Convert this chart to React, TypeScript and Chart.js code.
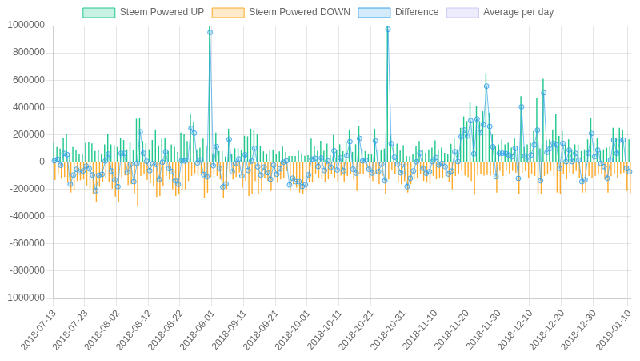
import React, { useEffect, useRef } from "react";
import { Chart, registerables } from "chart.js";

Chart.register(...registerables);

// Daily categories: 2018-07-13 .. 2019-01-10 (182 days)
const START_DAY = "2018-07-13";
const DAY_COUNT = 182;

// Tick labels that are shown on the x axis
const SHOWN_TICKS = [
  "2018-07-13", "2018-07-23", "2018-08-02", "2018-08-12", "2018-08-22",
  "2018-09-01", "2018-09-11", "2018-09-21", "2018-10-01", "2018-10-11",
  "2018-10-21", "2018-10-31", "2018-11-10", "2018-11-20", "2018-11-30",
  "2018-12-10", "2018-12-20", "2018-12-30", "2019-01-10",
];

// Y tick values
const Y_MIN = -1000000;
const Y_MAX = 1000000;
const Y_STEP = 200000;

// Steem Powered UP, thousands per day
const POWERED_UP_K = [
  141, 110, 98, 173, 205, 61, 110, 85, 61, 61,
  141, 146, 137, 80, 85, 56, 129, 202, 129, 124,
  110, 178, 161, 93, 146, 85, 317, 324, 154, 137,
  93, 161, 239, 122, 171, 178, 80, 129, 112, 73,
  215, 207, 154, 349, 295, 93, 105, 171, 117, 1060,
  63, 215, 80, 78, 40, 244, 56, 100, 100, 86,
  192, 188, 244, 239, 202, 117, 78, 62, 86, 92,
  62, 77, 113, 74, 44, 44, 44, 80, 58, 46,
  50, 172, 117, 82, 156, 82, 135, 52, 198, 86,
  130, 80, 150, 239, 74, 130, 263, 98, 80, 62,
  58, 244, 93, 86, 99, 1100, 195, 125, 135, 84,
  123, 44, 44, 62, 117, 154, 93, 68, 93, 105,
  159, 93, 105, 68, 56, 134, 178, 93, 251, 334,
  300, 443, 300, 410, 300, 373, 651, 361, 202, 117,
  129, 166, 129, 141, 105, 178, 117, 483, 110, 129,
  141, 227, 471, 100, 610, 160, 166, 239, 349, 190,
  227, 129, 166, 93, 129, 129, 80, 93, 166, 324,
  141, 178, 80, 93, 105, 117, 251, 178, 251, 239,
  166, 166,
];

// Steem Powered DOWN, thousands per day (negative)
const POWERED_DOWN_K = [
  -132, -90, -122, -110, -151, -224, -205, -139, -134, -127,
  -171, -195, -232, -290, -183, -146, -122, -144, -195, -254,
  -290, -115, -98, -168, -163, -229, -327, -102, -90, -132,
  -156, -173, -256, -249, -173, -102, -127, -200, -249, -237,
  -205, -200, -139, -102, -83, -100, -90, -263, -225, -110,
  -90, -102, -127, -261, -200, -78, -127, -110, -78, -188,
  -139, -249, -237, -139, -237, -212, -115, -139, -212, -115,
  -151, -127, -115, -66, -212, -163, -188, -224, -237, -212,
  -144, -151, -90, -115, -127, -144, -127, -90, -115, -144,
  -100, -144, -102, -90, -127, -212, -90, -90, -66, -115,
  -139, -90, -163, -102, -237, -127, -60, -90, -151, -163,
  -139, -224, -163, -127, -115, -90, -139, -151, -163, -102,
  -127, -115, -115, -102, -144, -200, -102, -90, -66, -100,
  -110, -140, -240, -95, -85, -100, -95, -100, -90, -224,
  -66, -102, -66, -90, -66, -78, -237, -78, -66, -115,
  -90, -102, -237, -237, -102, -90, -66, -102, -224, -237,
  -90, -127, -78, -90, -66, -115, -224, -224, -102, -115,
  -102, -90, -90, -127, -224, -102, -90, -115, -90, -78,
  -212, -237,
];

function buildDays(start: string, n: number): string[] {
  const [y, m, d] = start.split("-").map(Number);
  const t0 = Date.UTC(y, m - 1, d);
  const out: string[] = [];
  for (let i = 0; i < n; i++) {
    out.push(new Date(t0 + i * 86400000).toISOString().slice(0, 10));
  }
  return out;
}

const DAYS = buildDays(START_DAY, DAY_COUNT);
const POWERED_UP = POWERED_UP_K.map((v) => v * 1000);
const POWERED_DOWN = POWERED_DOWN_K.map((v) => v * 1000);
const DIFFERENCE = POWERED_UP.map((v, i) => v + POWERED_DOWN[i]);

const FONT = "'Liberation Sans', Arial, Helvetica, sans-serif";
const GRID = "rgba(0,0,0,0.1)";

const UP_COLOR = "rgb(32, 200, 140)";
const DOWN_COLOR = "rgb(255, 170, 40)";
const DIFF_COLOR = "rgb(54, 162, 235)";
const AVG_COLOR = "rgb(200, 200, 245)";
const LEGEND_FILLS = [
  "rgba(32, 200, 140, 0.25)",
  "rgba(255, 170, 40, 0.25)",
  "rgba(54, 162, 235, 0.22)",
  "rgba(200, 200, 245, 0.35)",
];

export default function App() {
  const ref = useRef<HTMLCanvasElement | null>(null);

  useEffect(() => {
    if (!ref.current) return;
    Chart.defaults.font.family = FONT;
    Chart.defaults.font.size = 12;
    Chart.defaults.color = "#666";
    const shown = new Set(SHOWN_TICKS);
    const isShown = (i: number) => i < DAYS.length && shown.has(DAYS[i]);
    const baseLabels = Chart.defaults.plugins.legend.labels.generateLabels;

    const chart = new Chart(ref.current, {
      type: "bar",
      data: {
        labels: DAYS,
        datasets: [
          {
            type: "bar",
            label: "Steem Powered UP",
            data: POWERED_UP,
            backgroundColor: UP_COLOR,
            borderColor: UP_COLOR,
            borderWidth: 0,
            categoryPercentage: 0.8,
            barPercentage: 0.9,
            order: 2,
          },
          {
            type: "bar",
            label: "Steem Powered DOWN",
            data: POWERED_DOWN,
            backgroundColor: DOWN_COLOR,
            borderColor: DOWN_COLOR,
            borderWidth: 0,
            categoryPercentage: 0.8,
            barPercentage: 0.9,
            order: 2,
          },
          {
            type: "line",
            label: "Difference",
            data: DIFFERENCE,
            backgroundColor: "rgba(54, 162, 235, 0.2)",
            borderColor: "rgba(54, 162, 235, 0.7)",
            borderWidth: 1,
            pointRadius: 3,
            pointBorderWidth: 1,
            pointBackgroundColor: "rgba(54, 162, 235, 0.2)",
            pointBorderColor: "rgba(54, 162, 235, 0.9)",
            tension: 0,
            fill: false,
            order: 1,
          },
          {
            type: "line",
            label: "Average per day",
            data: [],
            backgroundColor: "rgba(200, 200, 245, 0.35)",
            borderColor: AVG_COLOR,
            borderWidth: 1,
            order: 3,
          },
        ],
      },
      options: {
        responsive: false,
        animation: false,
        layout: { padding: { left: 2, right: 6, top: 0, bottom: 0 } },
        plugins: {
          legend: {
            position: "top",
            labels: {
              boxWidth: 40,
              boxHeight: 12,
              padding: 10,
              font: { size: 12, family: FONT },
              color: "#666",
              sort: (a: any, b: any) => a.datasetIndex - b.datasetIndex,
              generateLabels: (c: any) =>
                baseLabels(c).map((l: any) => ({
                  ...l,
                  fillStyle: LEGEND_FILLS[l.datasetIndex],
                  strokeStyle: [UP_COLOR, DOWN_COLOR, DIFF_COLOR, AVG_COLOR][l.datasetIndex],
                  lineWidth: 1,
                })),
            },
          },
          tooltip: { enabled: false },
        },
        scales: {
          x: {
            type: "category",
            offset: true,
            grid: {
              offset: true,
              color: (ctx: any) => (isShown(ctx.index) ? GRID : "rgba(0,0,0,0)"),
              tickLength: 10,
            },
            border: { color: GRID },
            ticks: {
              autoSkip: false,
              maxRotation: 50,
              minRotation: 50,
              padding: 2,
              font: { size: 12, family: FONT },
              color: "#666",
              callback: (_v: any, i: number) => (isShown(i) ? DAYS[i] : ""),
            },
            afterFit: (s: any) => {
              s.height = 78;
            },
          },
          y: {
            min: Y_MIN,
            max: Y_MAX,
            grid: {
              color: (ctx: any) => (ctx.tick && ctx.tick.value === 0 ? "rgba(0,0,0,0.25)" : GRID),
              tickLength: 8,
            },
            border: { color: GRID },
            ticks: {
              stepSize: Y_STEP,
              padding: 2,
              font: { size: 12, family: FONT },
              color: "#666",
              callback: (v: any) => String(v),
            },
            afterFit: (s: any) => {
              s.width = 64;
            },
          },
        },
      },
    });
    return () => chart.destroy();
  }, []);

  return (
    <div
      style={{
        position: "fixed",
        left: 0,
        top: 0,
        width: 800,
        height: 451,
        transform: "scale(0.8)",
        transformOrigin: "0 0",
        background: "#fff",
      }}
    >
      <canvas ref={ref} width={800} height={451} style={{ display: "block" }} />
    </div>
  );
}
